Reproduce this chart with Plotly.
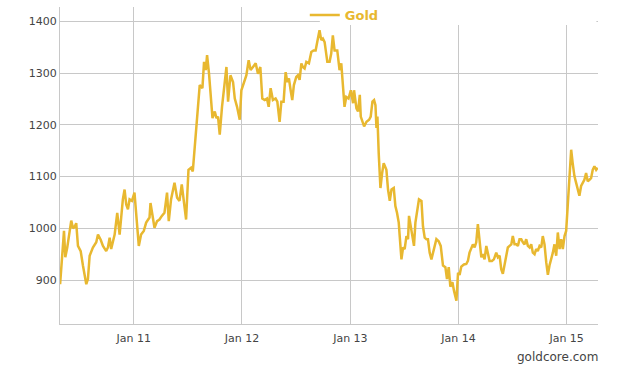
import pandas as pd
import plotly.graph_objects as go

# Gold price (EUR/oz), sampled along the series; time as decimal years
years = [
    2010.318, 2010.354, 2010.366, 2010.384, 2010.421, 2010.437, 2010.452, 2010.467, 2010.483, 2010.508,
    2010.529, 2010.545, 2010.560, 2010.575, 2010.591, 2010.621, 2010.652, 2010.668, 2010.693, 2010.714,
    2010.744, 2010.760, 2010.776, 2010.790, 2010.822, 2010.846, 2010.868, 2010.898, 2010.914, 2010.929,
    2010.945, 2010.960, 2010.982, 2011.006, 2011.030, 2011.046, 2011.067, 2011.092, 2011.114, 2011.145,
    2011.154, 2011.175, 2011.191, 2011.215, 2011.237, 2011.259, 2011.283, 2011.307, 2011.323, 2011.344,
    2011.376, 2011.400, 2011.422, 2011.443, 2011.462, 2011.483, 2011.505, 2011.529, 2011.545, 2011.566,
    2011.585, 2011.609, 2011.634, 2011.649, 2011.665, 2011.677, 2011.695, 2011.711, 2011.727, 2011.748,
    2011.764, 2011.778, 2011.794, 2011.815, 2011.834, 2011.856, 2011.871, 2011.893, 2011.917, 2011.933,
    2011.954, 2011.979, 2011.994, 2012.025, 2012.041, 2012.062, 2012.080, 2012.102, 2012.127, 2012.148,
    2012.170, 2012.188, 2012.210, 2012.231, 2012.247, 2012.265, 2012.286, 2012.311, 2012.327, 2012.348,
    2012.364, 2012.385, 2012.404, 2012.419, 2012.434, 2012.450, 2012.465, 2012.480, 2012.502, 2012.517,
    2012.533, 2012.549, 2012.563, 2012.579, 2012.595, 2012.619, 2012.641, 2012.662, 2012.681, 2012.702,
    2012.717, 2012.733, 2012.748, 2012.764, 2012.789, 2012.810, 2012.825, 2012.840, 2012.856, 2012.881,
    2012.902, 2012.918, 2012.933, 2012.948, 2012.964, 2012.985, 2013.004, 2013.025, 2013.034, 2013.056,
    2013.071, 2013.087, 2013.096, 2013.112, 2013.127, 2013.149, 2013.173, 2013.188, 2013.204, 2013.219,
    2013.232, 2013.241, 2013.250, 2013.262, 2013.278, 2013.293, 2013.308, 2013.333, 2013.348, 2013.364,
    2013.380, 2013.401, 2013.416, 2013.431, 2013.447, 2013.456, 2013.472, 2013.487, 2013.502, 2013.518,
    2013.533, 2013.542, 2013.558, 2013.573, 2013.588, 2013.601, 2013.616, 2013.634, 2013.657, 2013.671,
    2013.687, 2013.703, 2013.717, 2013.733, 2013.749, 2013.764, 2013.779, 2013.795, 2013.816, 2013.835,
    2013.856, 2013.878, 2013.893, 2013.909, 2013.924, 2013.943, 2013.958, 2013.980, 2013.995, 2014.010,
    2014.026, 2014.050, 2014.072, 2014.087, 2014.102, 2014.118, 2014.133, 2014.149, 2014.164, 2014.179,
    2014.195, 2014.211, 2014.225, 2014.241, 2014.257, 2014.272, 2014.287, 2014.309, 2014.327, 2014.349,
    2014.364, 2014.380, 2014.395, 2014.410, 2014.426, 2014.441, 2014.456, 2014.472, 2014.488, 2014.502,
    2014.518, 2014.534, 2014.549, 2014.564, 2014.580, 2014.595, 2014.610, 2014.626, 2014.641, 2014.657,
    2014.672, 2014.687, 2014.703, 2014.718, 2014.733, 2014.749, 2014.765, 2014.779, 2014.795, 2014.811,
    2014.826, 2014.841, 2014.857, 2014.872, 2014.887, 2014.903, 2014.918, 2014.934, 2014.949, 2014.964,
    2014.980, 2014.995, 2015.010, 2015.026, 2015.042, 2015.056, 2015.072, 2015.088, 2015.103, 2015.118,
    2015.134, 2015.149, 2015.164, 2015.180, 2015.195, 2015.211, 2015.226, 2015.241, 2015.257, 2015.273,
    2015.287,
]
gold = [
    892, 995, 944, 963, 1015, 1000, 1003, 1010, 966, 956,
    928, 912, 892, 902, 947, 963, 973, 988, 978, 966,
    956, 963, 982, 960, 988, 1030, 988, 1056, 1075, 1046,
    1037, 1056, 1053, 1069, 1006, 966, 988, 995, 1011, 1021,
    1049, 1021, 1001, 1014, 1017, 1024, 1030, 1069, 1014, 1056,
    1088, 1059, 1053, 1085, 1056, 1017, 1113, 1117, 1110, 1160,
    1213, 1277, 1271, 1322, 1306, 1335, 1299, 1248, 1213, 1226,
    1213, 1216, 1181, 1235, 1277, 1312, 1245, 1296, 1283, 1251,
    1235, 1210, 1267, 1287, 1296, 1325, 1306, 1312, 1319, 1299,
    1312, 1251, 1248, 1251, 1235, 1271, 1248, 1251, 1245, 1206,
    1245, 1245, 1302, 1283, 1290, 1267, 1248, 1277, 1293, 1296,
    1287, 1319, 1312, 1309, 1322, 1319, 1341, 1344, 1344, 1367,
    1383, 1364, 1367, 1360, 1322, 1322, 1338, 1373, 1344, 1344,
    1306, 1319, 1283, 1235, 1254, 1251, 1267, 1242, 1267, 1232,
    1226, 1258, 1216, 1206, 1197, 1206, 1210, 1216, 1245, 1248,
    1238, 1194, 1216, 1145, 1078, 1106, 1126, 1113, 1075, 1053,
    1075, 1078, 1043, 1030, 1011, 985, 940, 963, 960, 985,
    979, 1024, 1004, 985, 966, 1011, 1034, 1056, 1053, 1004,
    982, 979, 979, 953, 940, 953, 960, 979, 975, 966,
    928, 925, 902, 925, 887, 896, 879, 860, 914, 910,
    926, 930, 931, 937, 953, 963, 969, 963, 973, 1008,
    969, 944, 950, 940, 966, 950, 937, 937, 940, 953,
    944, 947, 921, 912, 928, 950, 963, 966, 969, 985,
    969, 969, 966, 979, 979, 973, 969, 979, 966, 963,
    969, 953, 950, 960, 956, 966, 963, 985, 969, 934,
    910, 928, 940, 953, 969, 947, 992, 960, 979, 960,
    985, 995, 1043, 1094, 1152, 1126, 1101, 1088, 1072, 1063,
    1082, 1088, 1094, 1107, 1091, 1094, 1097, 1113, 1120, 1113,
    1117,
]
series_name = "Gold"
credit = "goldcore.com"


def to_date(y):
    base = pd.Timestamp(year=int(y), month=1, day=1)
    return base + pd.Timedelta(days=(y - int(y)) * 365.25)


dates = [to_date(y) for y in years]

GOLD = "#E8B830"
GRID = "#c8c8c8"
TXT = "#444444"

fig = go.Figure()
fig.add_trace(go.Scatter(
    x=dates, y=gold, mode="lines", name=series_name,
    line=dict(color=GOLD, width=2.5),
))

fig.update_layout(
    width=619, height=367,
    margin=dict(l=60, r=21, t=7, b=43, pad=0, autoexpand=False),
    paper_bgcolor="white", plot_bgcolor="white",
    font=dict(family="DejaVu Sans", size=11, color=TXT),
    showlegend=True,
    legend=dict(
        x=0.455, y=1.022, xanchor="left", yanchor="top",
        orientation="h", bgcolor="rgba(0,0,0,0)",
        font=dict(family="DejaVu Sans", size=13, color=GOLD, weight="bold"),
        itemwidth=30,
    ),
    xaxis=dict(
        range=[to_date(2010.317), to_date(2015.290)],
        tickmode="array",
        tickvals=[pd.Timestamp(f"{y}-01-01") for y in range(2011, 2016)],
        ticktext=[f"Jan {y % 100:02d}" for y in range(2011, 2016)],
        showgrid=True, gridcolor=GRID, gridwidth=1,
        showline=True, linecolor=GRID, linewidth=1,
        ticks="", zeroline=False, ticklabelstandoff=4,
        tickfont=dict(size=11, color=TXT),
    ),
    yaxis=dict(
        range=[815, 1428],
        tickvals=[900, 1000, 1100, 1200, 1300, 1400],
        showgrid=True, gridcolor=GRID, gridwidth=1,
        showline=True, linecolor=GRID, linewidth=1,
        ticks="", zeroline=False,
        tickfont=dict(size=11, color=TXT),
    ),
    shapes=[dict(
        type="rect", xref="paper", yref="paper",
        x0=0.483, x1=0.997, y0=0.943, y1=1.0,
        fillcolor="white", line=dict(width=0), layer="above",
    )],
    annotations=[dict(
        text=credit, xref="paper", yref="paper",
        x=1.003, y=-0.076, xanchor="right", yanchor="top",
        showarrow=False, font=dict(size=12, color=TXT),
    )],
)

fig.write_html("out.html", config={"displayModeBar": False},
               post_script="document.body.style.margin='0';")
